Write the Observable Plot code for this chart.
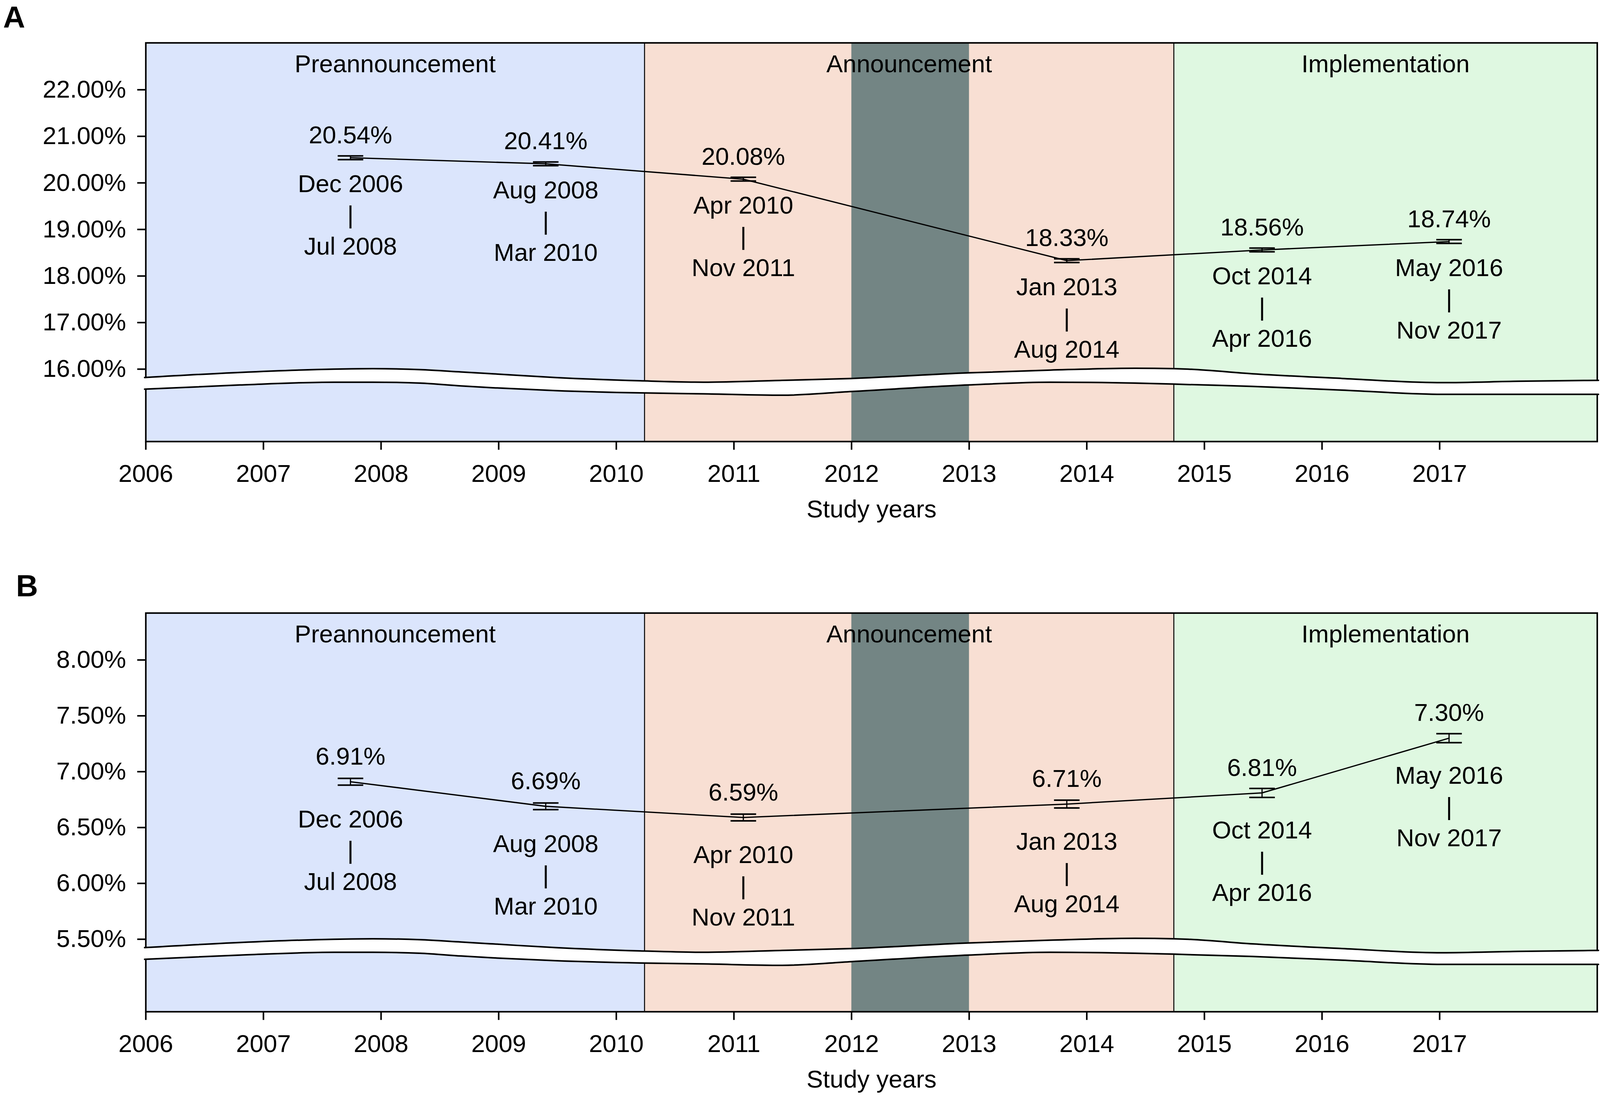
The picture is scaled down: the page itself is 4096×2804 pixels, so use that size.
<!DOCTYPE html>
<html><head><meta charset="utf-8">
<script src="https://cdn.jsdelivr.net/npm/d3@7"></script>
<script src="https://cdn.jsdelivr.net/npm/@observablehq/plot@0.6"></script>
<style>
html,body{margin:0;padding:0;background:#fff;}
#root{position:relative;width:4096px;height:2804px;overflow:hidden;font-family:"Liberation Sans",Arial,Helvetica,sans-serif;color:#000;}
.panel{position:absolute;left:0;}
.tag{position:absolute;font-weight:bold;font-size:78px;line-height:1;}
</style></head><body><div id="root"></div>
<script>
// ---- data ----
const periodStart = ["Dec 2006","Aug 2008","Apr 2010","Jan 2013","Oct 2014","May 2016"];
const periodEnd   = ["Jul 2008","Mar 2010","Nov 2011","Aug 2014","Apr 2016","Nov 2017"];
const periodMid   = [2007.74, 2009.40, 2011.08, 2013.83, 2015.49, 2017.08];

const valuesA = [20.54, 20.41, 20.08, 18.33, 18.56, 18.74];
const lowA    = [20.50, 20.37, 20.04, 18.29, 18.52, 18.70];
const highA   = [20.58, 20.45, 20.12, 18.37, 18.60, 18.78];

const valuesB = [6.91, 6.69, 6.59, 6.71, 6.81, 7.30];
const lowB    = [6.88, 6.66, 6.56, 6.675, 6.77, 7.26];
const highB   = [6.94, 6.72, 6.62, 6.745, 6.85, 7.34];

const yearTicks = [2006,2007,2008,2009,2010,2011,2012,2013,2014,2015,2016,2017];
const yTicksA = [16,17,18,19,20,21,22];
const yTicksB = [5.5,6,6.5,7,7.5,8];
const yDomainA = [14.445, 23.007];
const yDomainB = [4.851, 8.42];
const breakTickA = 16, breakTickB = 5.5;

const phaseNames = ["Preannouncement","Announcement","Implementation"];
const phaseStart = [2006, 2010.24, 2014.74];
const phaseEnd   = [2010.24, 2014.74, 2018.34];
const greyStart = 2012, greyEnd = 2013;

// axis-break wave (panel A units; panel B uses the same pixel shape)
const breakYears  = [2005.99,2006.80,2007.60,2007.93,2008.33,2008.68,2008.95,2009.48,2010.20,2010.74,2011.41,2012.00,2012.99,2013.69,2014.41,2014.74,2014.86,2015.41,2016.17,2017.02,2017.67,2018.35];
const breakUpperA = [15.82,15.93,16.00,16.01,15.99,15.94,15.90,15.82,15.75,15.72,15.76,15.80,15.92,15.98,16.02,16.01,16.00,15.90,15.80,15.71,15.74,15.76];
const breakLowerA = [15.57,15.66,15.72,15.72,15.70,15.64,15.60,15.54,15.49,15.47,15.44,15.52,15.66,15.72,15.70,15.68,15.67,15.63,15.55,15.46,15.46,15.46];

// ---- styles ----
const phaseColors = ["#dbe5fc","#f8dfd3","#dff8e1"];
const greyColor = "#738584";
const FONT = '"Liberation Sans", Arial, Helvetica, sans-serif';
const FS = 63;
const capSymbol = {draw(ctx){ ctx.moveTo(-32.7,0); ctx.lineTo(32.7,0); }};

function panel(o) {
  const pts = periodMid.map((x,i)=>({x, v:o.values[i], lo:o.lo[i], hi:o.hi[i],
    label: o.values[i].toFixed(2)+"%", dates: periodStart[i]+"\n|\n"+periodEnd[i]}));
  const phases = phaseNames.map((name,i)=>({name, start:phaseStart[i], end:phaseEnd[i]}));
  const brk = breakYears.map((x,i)=>({x, u:o.breakUpper[i], l:o.breakLower[i]}));
  return Plot.plot({
    width: 4096, height: o.height, marginTop: o.marginTop, marginBottom: o.marginBottom,
    marginLeft: 372.8, marginRight: 7.5,
    x: {domain: [2006, 2018.34]},
    y: {domain: o.yDomain},
    style: {fontFamily: FONT, fontSize: FS+"px", background: "transparent", overflow: "visible", color: "black"},
    marks: [
      ...phases.map((p,i)=>Plot.rect([p], {x1:"start", x2:"end", fill: phaseColors[i]})),
      Plot.rect([{s:greyStart, e:greyEnd}], {x1:"s", x2:"e", fill: greyColor}),
      Plot.ruleX(phaseStart.slice(1), {stroke:"black", strokeWidth:2.5}),
      Plot.frame({stroke:"black", strokeWidth:4}),
      Plot.areaY(brk, {x:"x", y1:"l", y2:"u", fill:"white", curve:"monotone-x", clip:false}),
      Plot.line(brk, {x:"x", y:"u", stroke:"black", strokeWidth:4, curve:"monotone-x"}),
      Plot.line(brk, {x:"x", y:"l", stroke:"black", strokeWidth:4, curve:"monotone-x"}),
      Plot.axisY({ticks:o.yTicks, tickFormat:d=>d.toFixed(2)+"%", tickSize:21.5, tickPadding:29, strokeWidth:4, fontSize:FS, label:null}),
      Plot.axisX({ticks:yearTicks, tickFormat:d=>String(d), tickSize:21.5, tickPadding:37, strokeWidth:4, fontSize:FS, label:null}),
      Plot.text(phases, {x:d=>(d.start+d.end)/2, frameAnchor:"top", lineAnchor:"middle", dy:55, text:"name", fontSize:FS, fill:"black"}),
      Plot.line(pts, {x:"x", y:"v", stroke:"black", strokeWidth:3.3}),
      Plot.ruleX(pts, {x:"x", y1:"lo", y2:"hi", stroke:"black", strokeWidth:3}),
      Plot.dot(pts, {x:"x", y:"lo", symbol:capSymbol, stroke:"black", fill:"none", strokeWidth:4}),
      Plot.dot(pts, {x:"x", y:"hi", symbol:capSymbol, stroke:"black", fill:"none", strokeWidth:4}),
      Plot.text(pts, {x:"x", y:"v", text:"label", dy:o.valueDy, fontSize:FS, fill:"black"}),
      Plot.text(pts, {x:"x", y:"v", text:"dates", dy:o.dateDy, lineHeight:1.27, fontSize:FS, fill:"black"}),
      Plot.text(["Study years"], {frameAnchor:"bottom", lineAnchor:"middle", dy:174, fontSize:FS, fill:"black"})
    ]
  });
}

const kB = (yDomainB[1]-yDomainB[0])/(yDomainA[1]-yDomainA[0]);
const breakUpperB = breakUpperA.map(u => breakTickB + (u - breakTickA)*kB);
const breakLowerB = breakLowerA.map(l => breakTickB + (l - breakTickA)*kB);

const root = document.getElementById("root");
const a = panel({values:valuesA, lo:lowA, hi:highA, yDomain:yDomainA, yTicks:yTicksA,
  breakUpper:breakUpperA, breakLower:breakLowerA, valueDy:-57.2, dateDy:142.5,
  height:1400, marginTop:109.3, marginBottom:269.8});
a.classList.add("panel"); a.style.top = "0px"; a.style.position="absolute";
root.appendChild(a);
const b = panel({values:valuesB, lo:lowB, hi:highB, yDomain:yDomainB, yTicks:yTicksB,
  breakUpper:breakUpperB, breakLower:breakLowerB, valueDy:-64, dateDy:171.3,
  height:1384, marginTop:149.4, marginBottom:213.7});
b.classList.add("panel"); b.style.top = "1420px"; b.style.position="absolute";
root.appendChild(b);

const tA = document.createElement("div"); tA.className="tag"; tA.textContent="A";
tA.style.left="8px"; tA.style.top="5px"; root.appendChild(tA);
const tB = document.createElement("div"); tB.className="tag"; tB.textContent="B";
tB.style.left="41px"; tB.style.top="1461px"; root.appendChild(tB);
</script></body></html>
